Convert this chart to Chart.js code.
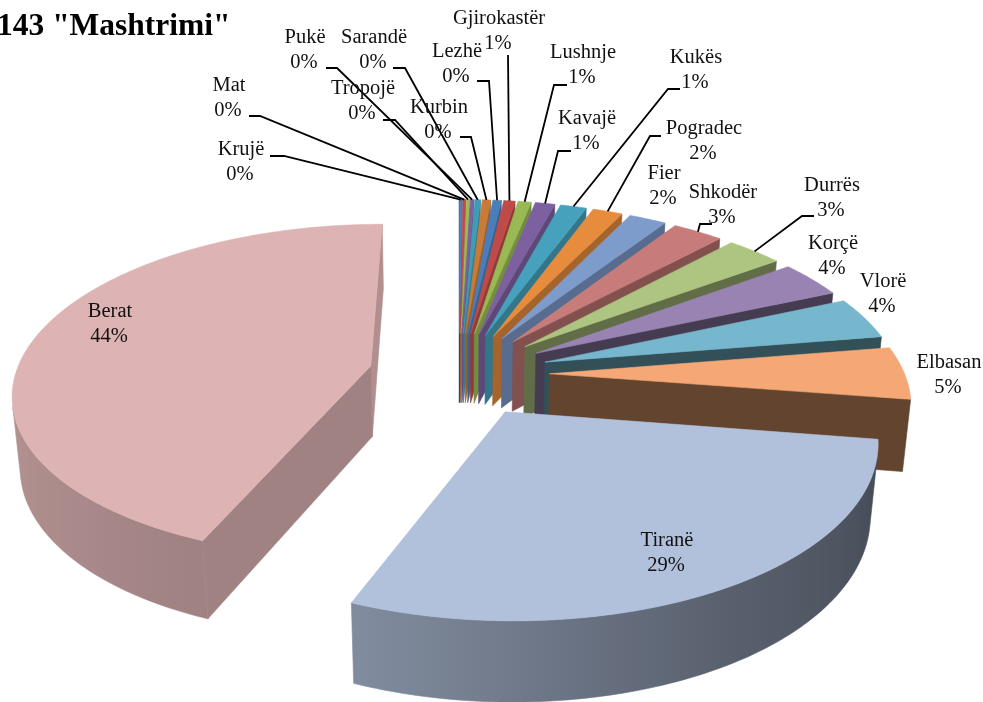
<!DOCTYPE html>
<html>
<head>
<meta charset="utf-8">
<style>
  html, body { margin: 0; padding: 0; background: #fff; overflow: hidden; }
  canvas { display: block; }
</style>
<script src="https://cdn.jsdelivr.net/npm/chart.js@4"></script>
</head>
<body>
<canvas id="chart" width="983" height="702"></canvas>
<script>
const titleText = '143 "Mashtrimi"';

const categories = ["Krujë", "Mat", "Tropojë", "Pukë", "Sarandë", "Kurbin", "Lezhë", "Gjirokastër", "Lushnje", "Kavajë",
	"Kukës", "Pogradec", "Fier", "Shkodër", "Durrës", "Korçë", "Vlorë", "Elbasan", "Tiranë", "Berat"];

// percentages read off the picture, the small ones are estimated from the slice widths
const values = [0.15, 0.15, 0.17, 0.17, 0.3, 0.45, 0.45, 0.6, 0.7, 1.05,
	1.4, 1.6, 2, 2.7, 3, 3.5, 4, 5, 28.7, 43.8];

const colors = ["#4A7EBB", "#BE4B48", "#98B954", "#7D60A0", "#3F9CB5", "#C87A38", "#4A7EBB", "#BE4B48", "#98B954", "#7D60A0",
	"#46A2BC", "#E68C3C", "#7D9BCB", "#C87C7A", "#ADC581", "#9983B3", "#77B7CE", "#F5A875", "#B2C1DB", "#DDB3B3"];

// label layout: centre x, centre y of the name line, then the leader's first two points (if any)
const labelLayout = [
	[241, 150, 270, 156, 284, 156], [229, 86, 249, 116, 260, 116], [363, 89, 383, 120, 395, 120],
	[305, 38, 326, 68, 337, 68], [374, 38, 393, 68, 405, 68], [439, 108, 460, 137, 471, 137],
	[457, 52, 477, 81, 489, 81], [499, 19, 508, 55, 508, 55], [583, 53, 567, 85, 554, 85],
	[587, 119, 571, 151, 558, 151], [696, 58, 680, 89, 668, 89], [704, 129, 661, 136, 650, 136],
	[664, 174], [723, 193, 712, 224, 700, 224], [832, 186, 814, 216, 802, 216],
	[833, 244], [883, 282], [949, 363], [667, 541], [110, 312]
];

// camera for the 3d pie, the radius of the pie is 1
const cam = { cx: 459, cy: 374, f: 2102, D: 5.92, elev: Math.asin(0.465), explode: 0.255, depth: 0.23 };

function project(x, y, z){
	const w = cam.D - y * Math.cos(cam.elev) - z * Math.sin(cam.elev);
	return {
		x: cam.cx + cam.f * x / w,
		y: cam.cy - cam.f * (z * Math.cos(cam.elev) - y * Math.sin(cam.elev)) / w
	};
}

function lerpTable(table, v){
	if(v <= table[0][0]) return table[0][1];
	for(let i = 1; i < table.length; i++){
		if(v <= table[i][0]){
			const t = (v - table[i-1][0]) / (table[i][0] - table[i-1][0]);
			return table[i-1][1] + t * (table[i][1] - table[i-1][1]);
		}
	}
	return table[table.length-1][1];
}

// how dark a wall gets, by the direction it faces (degrees clockwise from the top)
const radialShade = [[90, 0.8], [110, 0.73], [123, 0.7], [133, 0.65], [144, 0.55], [157, 0.45], [190, 0.4]];
const rimShade = [[100, 0.38], [150, 0.5], [200, 0.72], [280, 0.86]];

function shadeColor(hex, factor){
	const n = parseInt(hex.slice(1), 16);
	const r = Math.round((n >> 16 & 255) * factor);
	const g = Math.round((n >> 8 & 255) * factor);
	const b = Math.round((n & 255) * factor);
	return `rgb(${r},${g},${b})`;
}

function area(pts){
	let sum = 0;
	pts.forEach((p, i) => {
		const q = pts[(i + 1) % pts.length];
		sum += p.x * q.y - q.x * p.y;
	});
	return sum;
}

function fillPoly(ctx, pts, color){
	ctx.beginPath();
	pts.forEach((p, i) => i ? ctx.lineTo(p.x, p.y) : ctx.moveTo(p.x, p.y));
	ctx.closePath();
	ctx.fillStyle = color;
	ctx.strokeStyle = color;
	ctx.lineWidth = 0.6;
	ctx.fill();
	ctx.stroke();
}

function toDeg(t){
	return ((t + Math.PI / 2) * 180 / Math.PI + 360) % 360;
}

function drawRimWall(ctx, color, rim, t0, t1, h){
	// keep only the pieces that face the viewer, one horizontal gradient covers them all
	const steps = Math.max(2, Math.ceil((t1 - t0) / 0.02));
	const tops = [], bottoms = [], stops = [];
	for(let i = 0; i < steps; i++){
		const a = t0 + (t1 - t0) * i / steps;
		const b = t0 + (t1 - t0) * (i + 1) / steps;
		if(area([rim(a, 0), rim(b, 0), rim(b, h), rim(a, h)]) >= 0) continue;
		if(!tops.length){
			tops.push(rim(a, 0));
			bottoms.push(rim(a, h));
		}
		tops.push(rim(b, 0));
		bottoms.push(rim(b, h));
		stops.push({x: rim((a + b) / 2, 0).x, shade: lerpTable(rimShade, toDeg((a + b) / 2))});
	}
	if(!stops.length) return;
	const xs = stops.map(s => s.x);
	const minX = Math.min(...xs), maxX = Math.max(...xs);
	if(maxX - minX < 1){
		fillPoly(ctx, tops.concat(bottoms.reverse()), shadeColor(color, stops[0].shade));
		return;
	}
	const gradient = ctx.createLinearGradient(minX, 0, maxX, 0);
	stops.forEach(s => gradient.addColorStop((s.x - minX) / (maxX - minX), shadeColor(color, s.shade)));
	fillPoly(ctx, tops.concat(bottoms.reverse()), gradient);
}

function drawSlice(ctx, arc){
	const t0 = arc.startAngle, t1 = arc.endAngle;
	const tm = (t0 + t1) / 2;
	const color = arc.options.backgroundColor;
	const ox = Math.cos(tm) * cam.explode, oy = Math.sin(tm) * cam.explode;
	const apex = z => project(ox, oy, z);
	const rim = (t, z) => project(ox + Math.cos(t), oy + Math.sin(t), z);
	const h = -cam.depth;

	// flat walls along the two radii
	const endWall = [apex(0), rim(t1, 0), rim(t1, h), apex(h)];
	if(area(endWall) > 0){
		const normal = (toDeg(t1) + 90) % 360;
		fillPoly(ctx, endWall, shadeColor(color, lerpTable(radialShade, normal < 90 ? normal + 360 : normal)));
	}
	const startWall = [apex(0), rim(t0, 0), rim(t0, h), apex(h)];
	if(area(startWall) < 0){
		fillPoly(ctx, startWall, shadeColor(color, lerpTable(radialShade, (toDeg(t0) + 270) % 360)));
	}

	drawRimWall(ctx, color, rim, t0, t1, h);

	// top face
	const top = [apex(0)];
	const topSteps = Math.max(4, Math.ceil((t1 - t0) / 0.01));
	for(let i = 0; i <= topSteps; i++){
		top.push(rim(t0 + (t1 - t0) * i / topSteps, 0));
	}
	fillPoly(ctx, top, color);
}

function drawLabels(ctx, arcs){
	ctx.strokeStyle = "#000";
	ctx.lineWidth = 1.8;
	arcs.forEach((arc, i) => {
		const l = labelLayout[i];
		if(l.length < 3) return;
		const tm = (arc.startAngle + arc.endAngle) / 2;
		const end = project(Math.cos(tm) * (1 + cam.explode), Math.sin(tm) * (1 + cam.explode), 0);
		ctx.beginPath();
		ctx.moveTo(l[2], l[3]);
		ctx.lineTo(l[4], l[5]);
		ctx.lineTo(end.x, end.y);
		ctx.stroke();
	});

	const total = values.reduce((last, current) => last + current, 0);
	ctx.fillStyle = "#111";
	ctx.font = '20.5px "Liberation Serif"';
	ctx.textAlign = "center";
	ctx.textBaseline = "middle";
	categories.forEach((name, i) => {
		const l = labelLayout[i];
		ctx.fillText(name, l[0], l[1]);
		ctx.fillText(Math.round(values[i] / total * 100) + "%", l[0] - 1, l[1] + 24.5);
	});

	ctx.fillStyle = "#000";
	ctx.font = 'bold 31.5px "Liberation Serif"';
	ctx.textAlign = "left";
	ctx.textBaseline = "alphabetic";
	ctx.fillText(titleText, -3, 35);
}

const pie3d = {
	id: "pie3d",
	beforeDatasetsDraw(chart){
		const ctx = chart.ctx;
		const arcs = chart.getDatasetMeta(0).data;
		ctx.save();
		arcs.forEach(arc => drawSlice(ctx, arc));
		drawLabels(ctx, arcs);
		ctx.restore();
		return false;
	}
};

new Chart(document.getElementById("chart"), {
	type: "pie",
	data: {
		labels: categories,
		datasets: [{
			data: values,
			backgroundColor: colors,
			borderWidth: 0
		}]
	},
	options: {
		responsive: false,
		animation: false,
		plugins: {
			legend: { display: false },
			tooltip: { enabled: false }
		}
	},
	plugins: [pie3d]
});
</script>
</body>
</html>
